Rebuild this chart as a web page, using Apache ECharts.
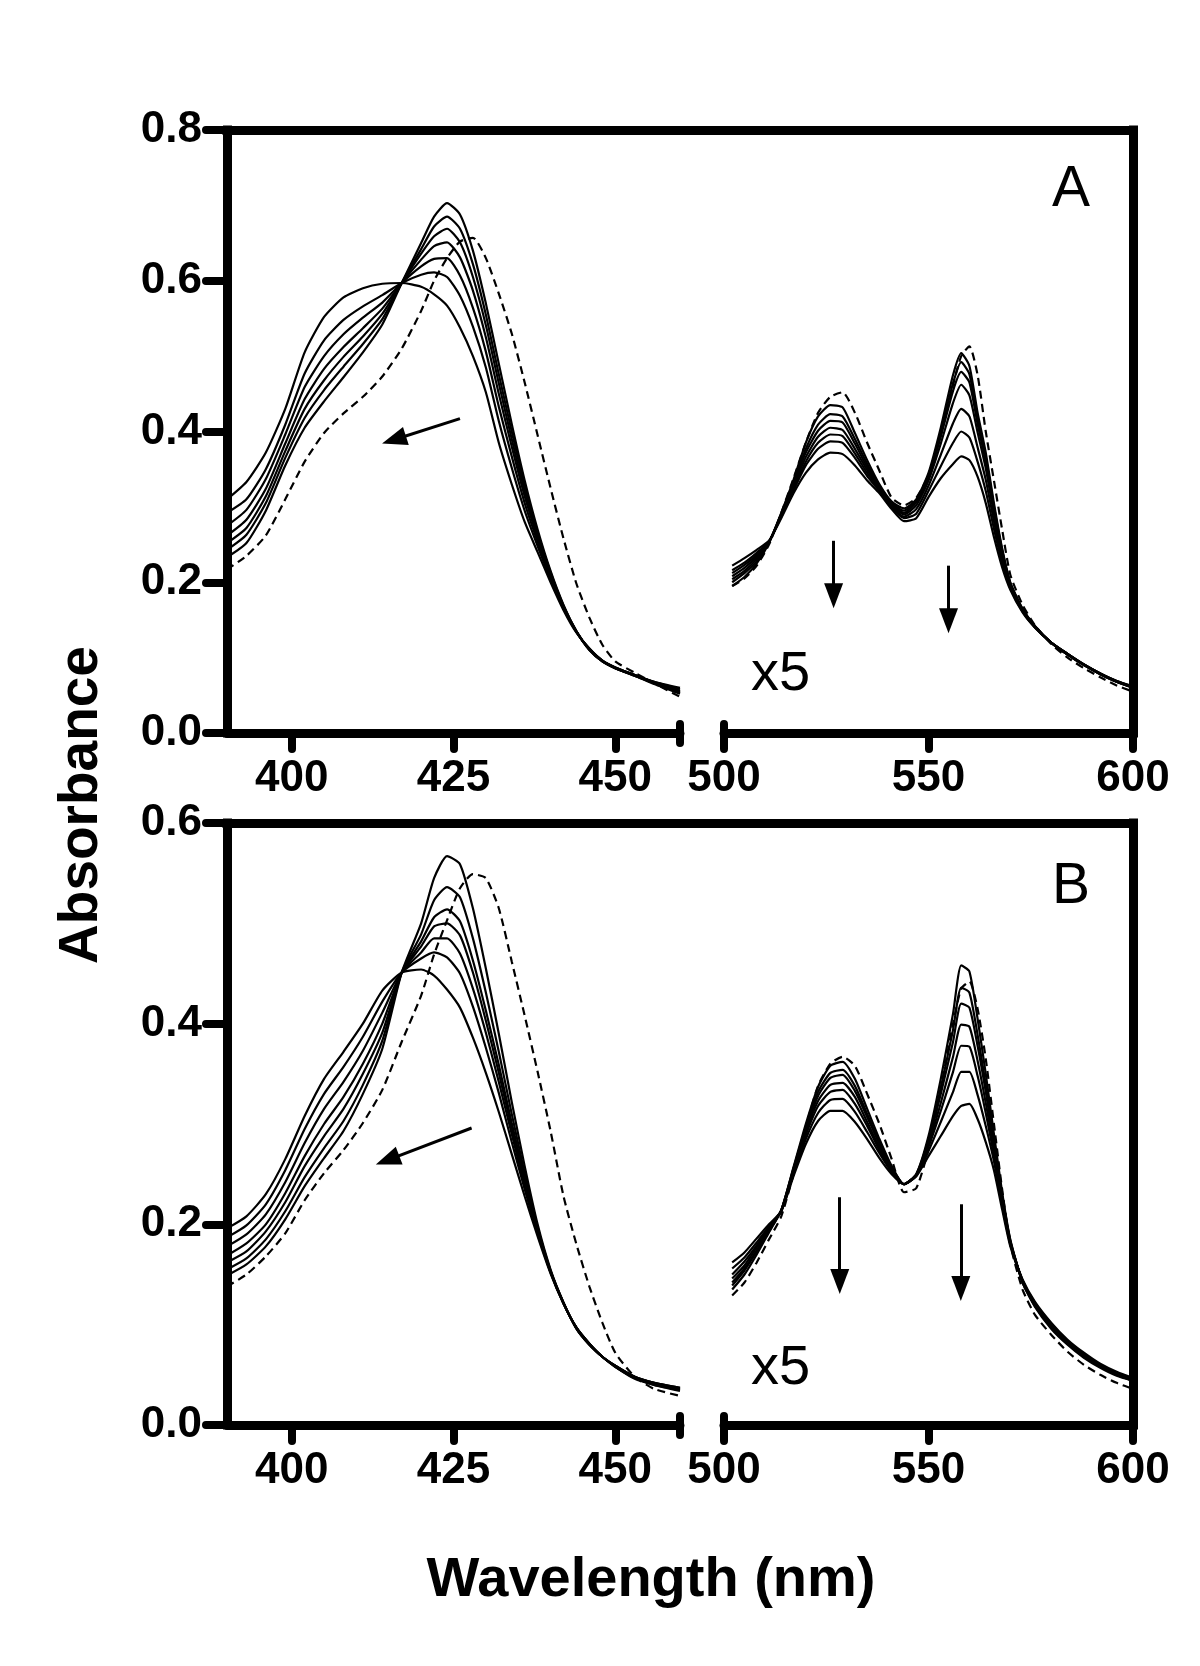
<!DOCTYPE html>
<html><head><meta charset="utf-8">
<script src="https://cdn.jsdelivr.net/npm/echarts@6/dist/echarts.min.js"></script>
<style>html,body{margin:0;padding:0;background:#fff}#c{width:1200px;height:1666px}</style>
</head><body><div id="c"></div><script>
// ---------- wavelengths (nm) ----------
const wlSoret = [390,393,396,399,402,405,408,411,414,417,420,422,424,426,428,430,432,434,436,438,440,442,444,446,448,450,453,456,460];
const wlQ = [502,505,508,511,514,517,520,523,526,529,532,535,538,541,544,547,550,553,556,558,560,562,564,566,568,570,573,576,580,584,588,592,596,600];

// ---------- tick labels ----------
const xTicksSoret = [400,425,450];
const xTicksQ = [500,550,600];
const yTicksA = [0,0.2,0.4,0.6,0.8];
const yTicksB = [0,0.2,0.4,0.6];

// ---------- Panel A, Soret region (absorbance) ----------
const A_soret_1 = [.233,.252,.295,.355,.405,.440,.472,.505,.542,.597,.650,.685,.703,.688,.640,.570,.490,.410,.335,.270,.215,.170,.135,.110,.095,.086,.076,.065,.052];
const A_soret_2 = [.243,.263,.305,.365,.418,.455,.486,.516,.549,.597,.642,.672,.685,.669,.622,.555,.476,.400,.328,.266,.213,.169,.135,.110,.095,.086,.076,.066,.053];
const A_soret_3 = [.252,.272,.314,.374,.430,.468,.499,.526,.556,.597,.636,.659,.669,.651,.605,.541,.464,.390,.321,.262,.211,.168,.135,.111,.095,.086,.076,.066,.054];
const A_soret_4 = [.262,.283,.324,.384,.443,.483,.512,.537,.563,.597,.628,.646,.651,.631,.587,.525,.450,.380,.314,.259,.209,.167,.134,.111,.096,.086,.077,.067,.055];
const A_soret_5 = [.275,.296,.337,.396,.459,.500,.529,.551,.571,.597,.619,.629,.630,.607,.564,.506,.433,.367,.305,.254,.207,.166,.134,.111,.096,.087,.077,.067,.056];
const A_soret_6 = [.292,.310,.350,.409,.477,.521,.548,.566,.581,.597,.608,.611,.605,.580,.539,.485,.414,.352,.295,.248,.204,.165,.134,.112,.096,.087,.077,.068,.058];
const A_soret_7 = [.310,.333,.372,.430,.505,.552,.578,.590,.596,.597,.592,.582,.567,.538,.500,.452,.385,.330,.280,.240,.200,.163,.133,.112,.096,.087,.077,.068,.060];
const A_soret_dash = [.217,.235,.262,.310,.360,.398,.424,.446,.473,.510,.560,.600,.630,.652,.657,.630,.583,.530,.465,.395,.325,.258,.198,.153,.117,.095,.080,.066,.048];

// ---------- Panel A, Q region (displayed x5) ----------
const A_q_1 = [.195,.207,.225,.252,.292,.336,.385,.420,.435,.432,.398,.362,.330,.307,.298,.310,.345,.405,.475,.504,.487,.425,.372,.305,.245,.200,.165,.142,.120,.104,.090,.078,.068,.060];
const A_q_2 = [.200,.212,.228,.253,.291,.333,.377,.409,.423,.420,.390,.357,.328,.305,.295,.308,.342,.399,.464,.492,.476,.417,.366,.301,.243,.199,.164,.142,.120,.104,.090,.078,.068,.060];
const A_q_3 = [.204,.215,.231,.253,.290,.330,.372,.401,.414,.412,.384,.353,.326,.304,.292,.306,.339,.393,.454,.479,.465,.410,.360,.297,.241,.198,.164,.141,.120,.104,.090,.078,.068,.061];
const A_q_4 = [.208,.219,.234,.253,.289,.327,.366,.393,.405,.402,.377,.349,.324,.302,.290,.302,.335,.384,.438,.462,.448,.399,.351,.291,.237,.197,.163,.141,.120,.105,.091,.079,.068,.061];
const A_q_5 = [.212,.223,.236,.254,.288,.325,.360,.385,.396,.394,.371,.345,.323,.301,.287,.297,.328,.369,.411,.430,.420,.379,.336,.281,.232,.195,.163,.141,.120,.105,.091,.079,.069,.061];
const A_q_6 = [.216,.226,.239,.254,.287,.322,.355,.377,.387,.385,.365,.341,.321,.299,.285,.291,.321,.354,.385,.400,.392,.360,.321,.271,.226,.192,.161,.140,.120,.105,.091,.079,.069,.062];
const A_q_7 = [.222,.232,.243,.255,.285,.318,.345,.363,.372,.370,.355,.335,.318,.297,.281,.285,.313,.338,.357,.367,.362,.340,.305,.260,.220,.190,.160,.140,.120,.105,.091,.079,.069,.062];
const A_q_dash = [.195,.205,.222,.250,.292,.338,.385,.425,.446,.452,.425,.385,.348,.312,.302,.312,.342,.395,.462,.500,.513,.475,.400,.335,.270,.210,.170,.143,.118,.100,.086,.074,.063,.055];

// ---------- Panel B, Soret region ----------
const B_soret_1 = [.149,.160,.178,.205,.238,.266,.293,.330,.375,.451,.500,.545,.567,.559,.515,.455,.390,.322,.258,.200,.155,.122,.096,.080,.068,.058,.046,.040,.034];
const B_soret_2 = [.155,.166,.185,.213,.247,.276,.303,.339,.383,.451,.489,.523,.536,.526,.485,.431,.372,.310,.251,.197,.154,.122,.096,.080,.068,.058,.047,.040,.035];
const B_soret_3 = [.162,.173,.193,.222,.258,.288,.315,.350,.391,.451,.482,.506,.514,.502,.463,.413,.359,.301,.246,.195,.153,.122,.096,.080,.068,.058,.047,.041,.035];
const B_soret_4 = [.169,.181,.200,.231,.268,.300,.327,.360,.400,.451,.477,.497,.500,.488,.451,.403,.351,.296,.243,.194,.153,.121,.097,.081,.068,.059,.047,.041,.036];
const B_soret_5 = [.178,.190,.210,.242,.281,.315,.342,.373,.411,.451,.471,.485,.485,.470,.435,.391,.342,.290,.239,.193,.152,.121,.097,.081,.068,.059,.048,.042,.036];
const B_soret_6 = [.187,.199,.220,.254,.295,.330,.357,.387,.422,.451,.465,.471,.466,.450,.417,.376,.331,.282,.235,.191,.152,.121,.097,.081,.068,.059,.048,.042,.037];
const B_soret_7 = [.196,.208,.230,.265,.308,.345,.372,.400,.433,.451,.454,.448,.434,.416,.386,.351,.312,.270,.228,.188,.151,.121,.097,.081,.068,.059,.048,.042,.037];
const B_soret_dash = [.138,.150,.168,.191,.224,.251,.274,.301,.334,.382,.428,.469,.503,.535,.549,.545,.515,.462,.408,.352,.293,.228,.180,.138,.102,.072,.048,.036,.029];

// ---------- Panel B, Q region (displayed x5) ----------
const B_q_1 = [.135,.150,.170,.192,.214,.257,.300,.337,.358,.362,.345,.315,.285,.258,.240,.250,.288,.345,.410,.458,.452,.405,.350,.290,.232,.185,.142,.118,.096,.080,.067,.057,.049,.044];
const B_q_2 = [.139,.154,.173,.193,.214,.256,.297,.332,.351,.354,.338,.310,.282,.257,.240,.250,.285,.336,.394,.436,.431,.389,.339,.284,.229,.184,.142,.119,.097,.081,.068,.058,.050,.044];
const B_q_3 = [.142,.156,.174,.194,.214,.255,.295,.328,.346,.349,.333,.307,.280,.256,.240,.249,.283,.330,.382,.420,.416,.378,.332,.280,.227,.183,.143,.119,.098,.081,.068,.058,.050,.045];
const B_q_4 = [.146,.159,.177,.195,.214,.253,.292,.323,.339,.341,.327,.302,.277,.255,.240,.249,.280,.321,.367,.399,.397,.363,.321,.275,.225,.182,.143,.120,.099,.082,.069,.059,.051,.045];
const B_q_5 = [.150,.163,.179,.197,.213,.252,.289,.318,.332,.334,.320,.298,.274,.253,.240,.249,.277,.313,.352,.378,.377,.348,.311,.269,.222,.181,.144,.121,.099,.083,.070,.059,.051,.046];
const B_q_6 = [.156,.167,.182,.198,.213,.250,.285,.311,.324,.325,.312,.292,.271,.252,.240,.248,.273,.302,.332,.352,.352,.329,.298,.263,.219,.180,.144,.122,.101,.084,.071,.060,.052,.046];
const B_q_7 = [.162,.172,.186,.200,.213,.248,.280,.303,.313,.313,.302,.285,.266,.250,.240,.248,.268,.288,.308,.318,.320,.305,.282,.254,.215,.178,.145,.123,.102,.085,.072,.061,.053,.047];
const B_q_dash = [.129,.142,.162,.185,.208,.250,.297,.338,.360,.367,.358,.330,.300,.265,.232,.236,.275,.335,.400,.435,.442,.415,.365,.300,.235,.180,.135,.110,.090,.073,.060,.050,.042,.036];

// ---------- arrow annotations (data coordinates: [start, end]) ----------
const arrowsAsoret = [[[426.0,0.417],[415.8,0.389]]];
const arrowsAq = [[[526.8,0.255],[526.8,0.182]],[[554.9,0.222],[554.9,0.149]]];
const arrowsBsoret = [[[427.8,0.296],[414.8,0.264]]];
const arrowsBq = [[[528.3,0.227],[528.3,0.143]],[[557.9,0.220],[557.9,0.136]]];

// ---------- texts ----------
const yTitle = 'Absorbance';
const xTitle = 'Wavelength (nm)';
const panelLabels = ['A','B'];
const scaleLabel = 'x5';

const FONT = '"Liberation Sans", Arial, Helvetica, sans-serif';
const BLACK = '#000';

function pairs(xs, ys){ return xs.map((x,i)=>[x, ys[i]]); }

const grids = [
  {left:227, top:130, width:453, height:603},
  {left:724, top:130, width:409, height:603},
  {left:227, top:823, width:453, height:602},
  {left:724, top:823, width:409, height:602},
  {left:227, top:130, width:906, height:603},
  {left:227, top:823, width:906, height:602}
].map(g => Object.assign({containLabel:false, outerBoundsMode:'none'}, g));

function mainX(gi, min, max, ticks){
  return {type:'value', gridIndex:gi, min:min, max:max, position:'bottom',
    axisLine:{show:true, onZero:false, lineStyle:{color:BLACK, width:9, cap:'round'}},
    axisTick:{show:true, inside:false, customValues:ticks, length:16, lineStyle:{color:BLACK, width:8, cap:'round'}},
    axisLabel:{show:true, customValues:ticks, margin:24, fontSize:44, fontWeight:'bold', color:BLACK, fontFamily:FONT},
    splitLine:{show:false}};
}
function capX(gi, min, max, val, inside, len){
  return {type:'value', gridIndex:gi, min:min, max:max, position:'bottom',
    axisLine:{show:false, onZero:false},
    axisTick:{show:true, inside:inside, customValues:[val], length:len, lineStyle:{color:BLACK, width:8, cap:'round'}},
    axisLabel:{show:false}, splitLine:{show:false}};
}
function frameX(gi){
  return {type:'value', gridIndex:gi, min:0, max:1, position:'top',
    axisLine:{show:true, onZero:false, lineStyle:{color:BLACK, width:9, cap:'square'}},
    axisTick:{show:false}, axisLabel:{show:false}, splitLine:{show:false}};
}
function leftY(gi, ticks){
  return {type:'value', gridIndex:gi, min:ticks[0], max:ticks[ticks.length-1], interval:0.2, position:'left',
    axisLine:{show:true, onZero:false, lineStyle:{color:BLACK, width:9, cap:'square'}},
    axisTick:{show:true, length:21, lineStyle:{color:BLACK, width:8, cap:'round'}},
    axisLabel:{show:true, margin:25, fontSize:44, fontWeight:'bold', color:BLACK, fontFamily:FONT,
      formatter: v => Number(v).toFixed(1)},
    splitLine:{show:false}};
}
function hiddenY(gi, max){
  return {type:'value', gridIndex:gi, min:0, max:max, show:false, splitLine:{show:false}};
}
function frameY(gi){
  return {type:'value', gridIndex:gi, min:0, max:1, position:'right',
    axisLine:{show:true, onZero:false, lineStyle:{color:BLACK, width:9, cap:'square'}},
    axisTick:{show:false}, axisLabel:{show:false}, splitLine:{show:false}};
}

const xAxes = [
  mainX(0, 390, 460, xTicksSoret),      //0
  mainX(1, 500, 600, xTicksQ),          //1
  mainX(2, 390, 460, xTicksSoret),      //2
  mainX(3, 500, 600, xTicksQ),          //3
  frameX(4),                            //4
  frameX(5),                            //5
  capX(0, 390, 460, 460, true, 9),      //6
  capX(0, 390, 460, 460, false, 10),    //7
  capX(1, 500, 600, 500, true, 9),      //8
  capX(2, 390, 460, 460, true, 9),      //9
  capX(2, 390, 460, 460, false, 10),    //10
  capX(3, 500, 600, 500, true, 9)       //11
];
const yAxes = [
  leftY(0, yTicksA), hiddenY(1, 0.8), leftY(2, yTicksB), hiddenY(3, 0.6), frameY(4), frameY(5)
];

function arrowMark(list){
  return {silent:true, animation:false, symbol:['none','triangle'], symbolSize:[19,25], precision:3,
    label:{show:false}, emphasis:{disabled:true},
    lineStyle:{color:BLACK, width:3, type:'solid'},
    itemStyle:{color:BLACK},
    data: list.map(a => [{coord:a[0]}, {coord:a[1]}])};
}

const series = [];
function addPanel(axisIdx, xs, solids, dashed, arrows){
  solids.forEach(ys => series.push({type:'line', xAxisIndex:axisIdx, yAxisIndex:axisIdx, data:pairs(xs, ys),
    symbol:'none', showSymbol:false, smooth:0.2, silent:true, z:3,
    lineStyle:{color:BLACK, width:2.2, type:'solid'}}));
  series.push({type:'line', xAxisIndex:axisIdx, yAxisIndex:axisIdx, data:pairs(xs, dashed),
    symbol:'none', showSymbol:false, smooth:0.2, silent:true, z:3,
    itemStyle:{color:BLACK},
    lineStyle:{color:BLACK, width:2.2, type:[8,5]},
    markLine: arrowMark(arrows)});
}
addPanel(0, wlSoret, [A_soret_1,A_soret_2,A_soret_3,A_soret_4,A_soret_5,A_soret_6,A_soret_7], A_soret_dash, arrowsAsoret);
addPanel(1, wlQ, [A_q_1,A_q_2,A_q_3,A_q_4,A_q_5,A_q_6,A_q_7], A_q_dash, arrowsAq);
addPanel(2, wlSoret, [B_soret_1,B_soret_2,B_soret_3,B_soret_4,B_soret_5,B_soret_6,B_soret_7], B_soret_dash, arrowsBsoret);
addPanel(3, wlQ, [B_q_1,B_q_2,B_q_3,B_q_4,B_q_5,B_q_6,B_q_7], B_q_dash, arrowsBq);

function txt(text, x, y, size, weight, align, rot){
  return {type:'text', x:x, y:y, rotation:rot||0, z:10, silent:true,
    style:{text:text, fill:BLACK, fontSize:size, fontWeight:weight, fontFamily:FONT,
      align:align, verticalAlign:'middle', textAlign:align, textVerticalAlign:'middle'}};
}
const graphic = [
  txt(panelLabels[0], 1071, 190, 57, 'normal', 'center'),
  txt(panelLabels[1], 1071, 887, 57, 'normal', 'center'),
  txt(scaleLabel, 751, 675, 56, 'normal', 'left'),
  txt(scaleLabel, 751, 1369, 56, 'normal', 'left'),
  txt(yTitle, 82, 805, 55, 'bold', 'center', Math.PI/2),
  txt(xTitle, 651, 1581, 56, 'bold', 'center')
];

const chart = echarts.init(document.getElementById('c'), null, {renderer:'canvas'});
chart.setOption({
  animation:false,
  backgroundColor:'#fff',
  grid: grids,
  xAxis: xAxes,
  yAxis: yAxes,
  series: series,
  graphic: graphic
});
</script></body></html>
